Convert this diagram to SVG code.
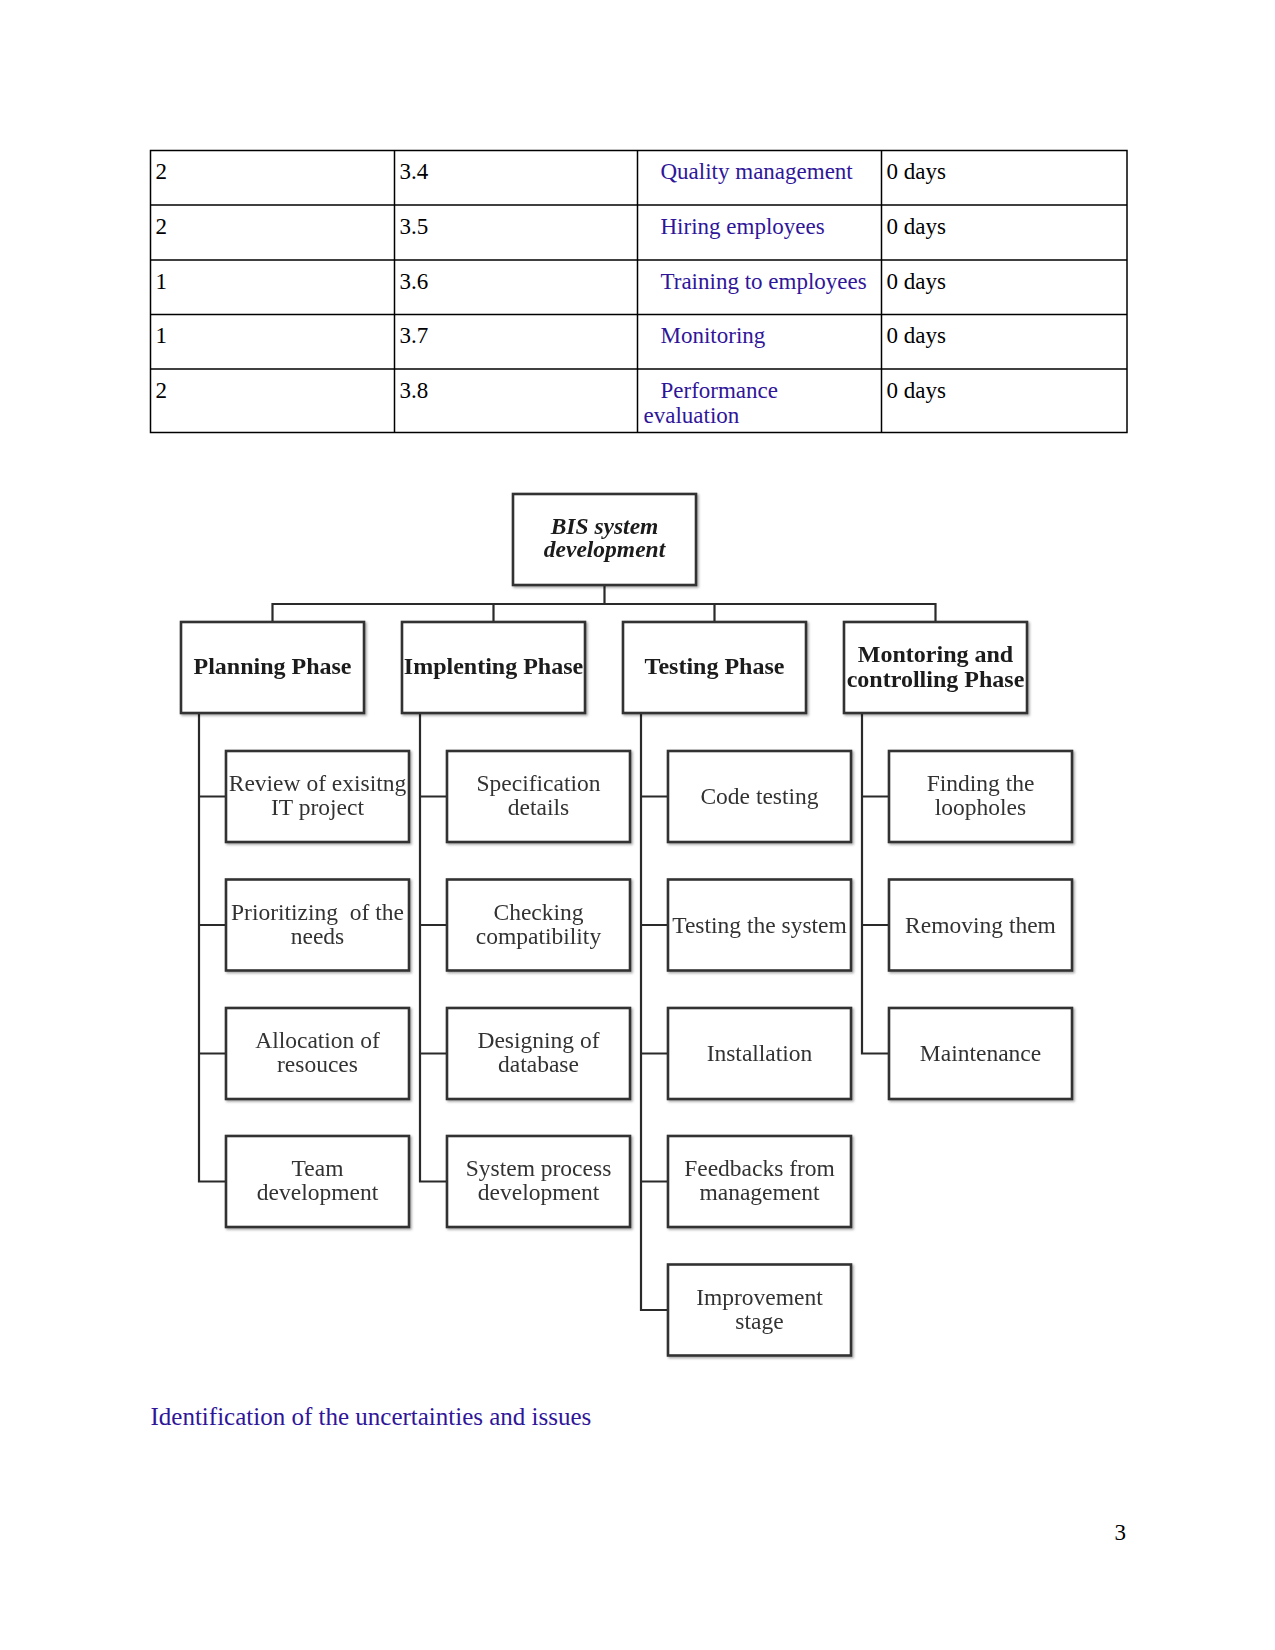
<svg xmlns="http://www.w3.org/2000/svg" width="1275" height="1650" viewBox="0 0 1275 1650">
<style>
.tb{fill:none;stroke:#000;stroke-width:1.5}
.tt{font-family:"Liberation Serif",serif;font-size:23px;fill:#000}
.tbl{font-family:"Liberation Serif",serif;font-size:23px;fill:#2f1699}
.box{fill:#fff;stroke:#333;stroke-width:2.6}
.ln{fill:none;stroke:#2a2a2a;stroke-width:2.2}
.ph{font-family:"Liberation Serif",serif;font-size:24px;font-weight:bold;fill:#1a1a1a;text-anchor:middle}
.rt{font-family:"Liberation Serif",serif;font-size:23.5px;font-weight:bold;font-style:italic;fill:#1a1a1a;text-anchor:middle}
.ch{font-family:"Liberation Serif",serif;font-size:23.5px;fill:#333;text-anchor:middle;white-space:pre}
.cap{font-family:"Liberation Serif",serif;font-size:25px;fill:#2f1699}
.pg{font-family:"Liberation Serif",serif;font-size:23px;fill:#000;text-anchor:end}
</style>
<defs>
<filter id="sh" x="-10%" y="-10%" width="130%" height="130%">
<feDropShadow dx="1.5" dy="1.5" stdDeviation="1.2" flood-color="#000" flood-opacity="0.35"/>
</filter>
</defs>
<rect width="1275" height="1650" fill="#fff"/>

<g id="table">
<rect class="tb" x="150.5" y="150.5" width="976.5" height="282"/>
<line class="tb" x1="394.5" y1="150.5" x2="394.5" y2="432.5"/>
<line class="tb" x1="637.5" y1="150.5" x2="637.5" y2="432.5"/>
<line class="tb" x1="881.5" y1="150.5" x2="881.5" y2="432.5"/>
<line class="tb" x1="150.5" y1="205" x2="1127" y2="205"/>
<line class="tb" x1="150.5" y1="260" x2="1127" y2="260"/>
<line class="tb" x1="150.5" y1="314.5" x2="1127" y2="314.5"/>
<line class="tb" x1="150.5" y1="369" x2="1127" y2="369"/>
<text class="tt" x="155.5" y="179">2</text>
<text class="tt" x="399.5" y="179">3.4</text>
<text class="tbl" x="660.5" y="179">Quality management</text>
<text class="tt" x="886.5" y="179">0 days</text>
<text class="tt" x="155.5" y="233.5">2</text>
<text class="tt" x="399.5" y="233.5">3.5</text>
<text class="tbl" x="660.5" y="233.5">Hiring employees</text>
<text class="tt" x="886.5" y="233.5">0 days</text>
<text class="tt" x="155.5" y="288.5">1</text>
<text class="tt" x="399.5" y="288.5">3.6</text>
<text class="tbl" x="660.5" y="288.5">Training to employees</text>
<text class="tt" x="886.5" y="288.5">0 days</text>
<text class="tt" x="155.5" y="343">1</text>
<text class="tt" x="399.5" y="343">3.7</text>
<text class="tbl" x="660.5" y="343">Monitoring</text>
<text class="tt" x="886.5" y="343">0 days</text>
<text class="tt" x="155.5" y="397.5">2</text>
<text class="tt" x="399.5" y="397.5">3.8</text>
<text class="tbl" x="660.5" y="397.5">Performance</text>
<text class="tbl" x="643.5" y="422.5">evaluation</text>
<text class="tt" x="886.5" y="397.5">0 days</text>
</g>

<g id="connectors">
<path class="ln" d="M604.5 585 V604 M272.5 621 V604 H935.5 V621 M493.5 604 V621 M714.5 604 V621"/>
<path class="ln" d="M199 713 V1181.5 H226 M199 796.5 H226 M199 925 H226 M199 1053.5 H226"/>
<path class="ln" d="M420 713 V1181.5 H447 M420 796.5 H447 M420 925 H447 M420 1053.5 H447"/>
<path class="ln" d="M641 713 V1310 H668 M641 796.5 H668 M641 925 H668 M641 1053.5 H668 M641 1181.5 H668"/>
<path class="ln" d="M862 713 V1053.5 H889 M862 796.5 H889 M862 925 H889"/>
</g>

<g id="root" filter="url(#sh)">
<rect class="box" x="513" y="494" width="183" height="91"/>
<text class="rt" x="604.5" y="534">BIS system</text>
<text class="rt" x="604.5" y="557">development</text>
</g>

<g id="planning" filter="url(#sh)">
<rect class="box" x="181" y="622" width="183" height="91"/>
<text class="ph" x="272.5" y="674">Planning Phase</text>
</g>
<g id="implenting" filter="url(#sh)">
<rect class="box" x="402" y="622" width="183" height="91"/>
<text class="ph" x="493.5" y="674">Implenting Phase</text>
</g>
<g id="testing" filter="url(#sh)">
<rect class="box" x="623" y="622" width="183" height="91"/>
<text class="ph" x="714.5" y="674">Testing Phase</text>
</g>
<g id="monitoring" filter="url(#sh)">
<rect class="box" x="844" y="622" width="183" height="91"/>
<text class="ph" x="935.5" y="662">Montoring and</text>
<text class="ph" x="935.5" y="687">controlling Phase</text>
</g>

<g id="p1" filter="url(#sh)"><rect class="box" x="226" y="751" width="183" height="91"/>
<text class="ch" x="317.5" y="791">Review of exisitng</text><text class="ch" x="317.5" y="815">IT project</text></g>
<g id="p2" filter="url(#sh)"><rect class="box" x="226" y="879.5" width="183" height="91"/>
<text class="ch" x="317.5" y="919.5" xml:space="preserve">Prioritizing  of the</text><text class="ch" x="317.5" y="943.5">needs</text></g>
<g id="p3" filter="url(#sh)"><rect class="box" x="226" y="1008" width="183" height="91"/>
<text class="ch" x="317.5" y="1048">Allocation of</text><text class="ch" x="317.5" y="1072">resouces</text></g>
<g id="p4" filter="url(#sh)"><rect class="box" x="226" y="1136" width="183" height="91"/>
<text class="ch" x="317.5" y="1176">Team</text><text class="ch" x="317.5" y="1200">development</text></g>

<g id="i1" filter="url(#sh)"><rect class="box" x="447" y="751" width="183" height="91"/>
<text class="ch" x="538.5" y="791">Specification</text><text class="ch" x="538.5" y="815">details</text></g>
<g id="i2" filter="url(#sh)"><rect class="box" x="447" y="879.5" width="183" height="91"/>
<text class="ch" x="538.5" y="919.5">Checking</text><text class="ch" x="538.5" y="943.5">compatibility</text></g>
<g id="i3" filter="url(#sh)"><rect class="box" x="447" y="1008" width="183" height="91"/>
<text class="ch" x="538.5" y="1048">Designing of</text><text class="ch" x="538.5" y="1072">database</text></g>
<g id="i4" filter="url(#sh)"><rect class="box" x="447" y="1136" width="183" height="91"/>
<text class="ch" x="538.5" y="1176">System process</text><text class="ch" x="538.5" y="1200">development</text></g>

<g id="t1" filter="url(#sh)"><rect class="box" x="668" y="751" width="183" height="91"/>
<text class="ch" x="759.5" y="804">Code testing</text></g>
<g id="t2" filter="url(#sh)"><rect class="box" x="668" y="879.5" width="183" height="91"/>
<text class="ch" x="759.5" y="932.5">Testing the system</text></g>
<g id="t3" filter="url(#sh)"><rect class="box" x="668" y="1008" width="183" height="91"/>
<text class="ch" x="759.5" y="1061">Installation</text></g>
<g id="t4" filter="url(#sh)"><rect class="box" x="668" y="1136" width="183" height="91"/>
<text class="ch" x="759.5" y="1176">Feedbacks from</text><text class="ch" x="759.5" y="1200">management</text></g>
<g id="t5" filter="url(#sh)"><rect class="box" x="668" y="1264.5" width="183" height="91"/>
<text class="ch" x="759.5" y="1304.5">Improvement</text><text class="ch" x="759.5" y="1328.5">stage</text></g>

<g id="m1" filter="url(#sh)"><rect class="box" x="889" y="751" width="183" height="91"/>
<text class="ch" x="980.5" y="791">Finding the</text><text class="ch" x="980.5" y="815">loopholes</text></g>
<g id="m2" filter="url(#sh)"><rect class="box" x="889" y="879.5" width="183" height="91"/>
<text class="ch" x="980.5" y="932.5">Removing them</text></g>
<g id="m3" filter="url(#sh)"><rect class="box" x="889" y="1008" width="183" height="91"/>
<text class="ch" x="980.5" y="1061">Maintenance</text></g>

<text class="cap" x="150.5" y="1425">Identification of the uncertainties and issues</text>
<text class="pg" x="1126" y="1540">3</text>
</svg>
